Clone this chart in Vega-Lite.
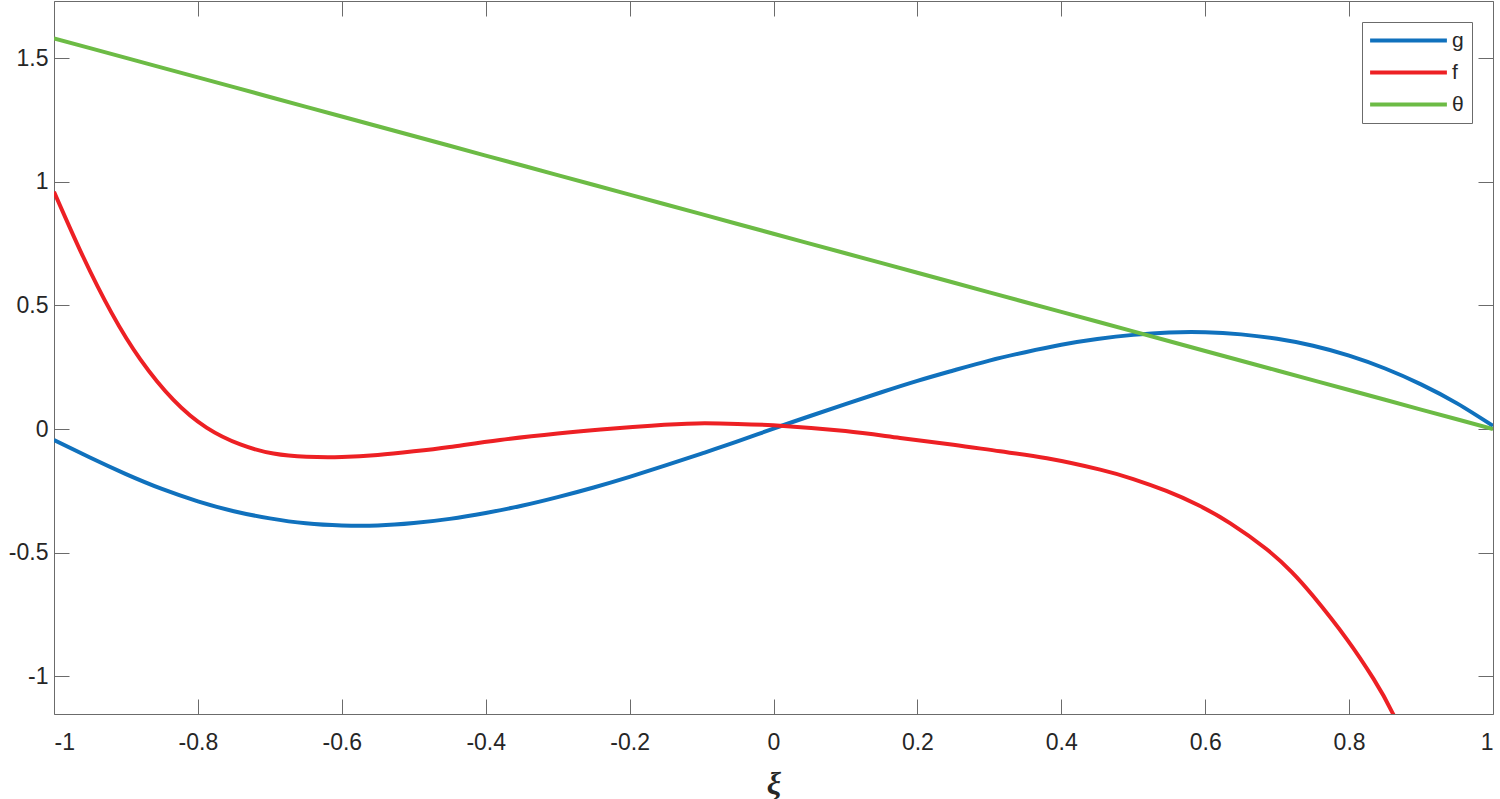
{
  "$schema": "https://vega.github.io/schema/vega-lite/v6.json",
  "autosize": {"type": "none"},
  "width": 1439,
  "height": 713,
  "padding": {"left": 54, "top": 1, "right": 7, "bottom": 85},
  "background": "white",
  "config": {
    "view": {"stroke": "#6b6b6b", "strokeWidth": 1},
    "axis": {
      "domain": false,
      "grid": false,
      "tickColor": "#6b6b6b",
      "tickWidth": 1,
      "tickSize": -15,
      "labelFont": "Liberation Sans",
      "labelFontSize": 23,
      "labelColor": "#262626"
    }
  },
  "datasets": {
    "curves": [
      {"xi": -1.0, "value": -0.044, "series": "g"},
      {"xi": -0.95, "value": -0.115, "series": "g"},
      {"xi": -0.9, "value": -0.182, "series": "g"},
      {"xi": -0.85, "value": -0.242, "series": "g"},
      {"xi": -0.8, "value": -0.292, "series": "g"},
      {"xi": -0.75, "value": -0.332, "series": "g"},
      {"xi": -0.7, "value": -0.361, "series": "g"},
      {"xi": -0.65, "value": -0.381, "series": "g"},
      {"xi": -0.6, "value": -0.390, "series": "g"},
      {"xi": -0.55, "value": -0.390, "series": "g"},
      {"xi": -0.5, "value": -0.380, "series": "g"},
      {"xi": -0.45, "value": -0.363, "series": "g"},
      {"xi": -0.4, "value": -0.339, "series": "g"},
      {"xi": -0.35, "value": -0.310, "series": "g"},
      {"xi": -0.3, "value": -0.275, "series": "g"},
      {"xi": -0.25, "value": -0.236, "series": "g"},
      {"xi": -0.2, "value": -0.193, "series": "g"},
      {"xi": -0.15, "value": -0.147, "series": "g"},
      {"xi": -0.1, "value": -0.099, "series": "g"},
      {"xi": -0.05, "value": -0.050, "series": "g"},
      {"xi": 0.0, "value": 0.002, "series": "g"},
      {"xi": 0.05, "value": 0.052, "series": "g"},
      {"xi": 0.1, "value": 0.101, "series": "g"},
      {"xi": 0.15, "value": 0.149, "series": "g"},
      {"xi": 0.2, "value": 0.195, "series": "g"},
      {"xi": 0.25, "value": 0.237, "series": "g"},
      {"xi": 0.3, "value": 0.277, "series": "g"},
      {"xi": 0.35, "value": 0.311, "series": "g"},
      {"xi": 0.4, "value": 0.341, "series": "g"},
      {"xi": 0.45, "value": 0.364, "series": "g"},
      {"xi": 0.5, "value": 0.381, "series": "g"},
      {"xi": 0.55, "value": 0.391, "series": "g"},
      {"xi": 0.6, "value": 0.392, "series": "g"},
      {"xi": 0.65, "value": 0.383, "series": "g"},
      {"xi": 0.7, "value": 0.365, "series": "g"},
      {"xi": 0.75, "value": 0.337, "series": "g"},
      {"xi": 0.8, "value": 0.297, "series": "g"},
      {"xi": 0.85, "value": 0.245, "series": "g"},
      {"xi": 0.9, "value": 0.181, "series": "g"},
      {"xi": 0.95, "value": 0.104, "series": "g"},
      {"xi": 1.0, "value": 0.013, "series": "g"},
      {"xi": -1.0, "value": 0.960, "series": "f"},
      {"xi": -0.96, "value": 0.700, "series": "f"},
      {"xi": -0.92, "value": 0.470, "series": "f"},
      {"xi": -0.88, "value": 0.282, "series": "f"},
      {"xi": -0.834, "value": 0.118, "series": "f"},
      {"xi": -0.788, "value": 0.006, "series": "f"},
      {"xi": -0.741, "value": -0.062, "series": "f"},
      {"xi": -0.695, "value": -0.099, "series": "f"},
      {"xi": -0.649, "value": -0.112, "series": "f"},
      {"xi": -0.6, "value": -0.113, "series": "f"},
      {"xi": -0.55, "value": -0.105, "series": "f"},
      {"xi": -0.5, "value": -0.090, "series": "f"},
      {"xi": -0.45, "value": -0.072, "series": "f"},
      {"xi": -0.38, "value": -0.044, "series": "f"},
      {"xi": -0.3, "value": -0.018, "series": "f"},
      {"xi": -0.24, "value": -0.002, "series": "f"},
      {"xi": -0.17, "value": 0.014, "series": "f"},
      {"xi": -0.107, "value": 0.023, "series": "f"},
      {"xi": -0.05, "value": 0.021, "series": "f"},
      {"xi": 0.014, "value": 0.013, "series": "f"},
      {"xi": 0.1, "value": -0.008, "series": "f"},
      {"xi": 0.176, "value": -0.036, "series": "f"},
      {"xi": 0.25, "value": -0.063, "series": "f"},
      {"xi": 0.315, "value": -0.090, "series": "f"},
      {"xi": 0.38, "value": -0.118, "series": "f"},
      {"xi": 0.454, "value": -0.164, "series": "f"},
      {"xi": 0.5, "value": -0.202, "series": "f"},
      {"xi": 0.546, "value": -0.250, "series": "f"},
      {"xi": 0.59, "value": -0.307, "series": "f"},
      {"xi": 0.635, "value": -0.381, "series": "f"},
      {"xi": 0.685, "value": -0.485, "series": "f"},
      {"xi": 0.72, "value": -0.577, "series": "f"},
      {"xi": 0.75, "value": -0.675, "series": "f"},
      {"xi": 0.797, "value": -0.850, "series": "f"},
      {"xi": 0.834, "value": -1.010, "series": "f"},
      {"xi": 0.861, "value": -1.151, "series": "f"},
      {"xi": 0.9, "value": -1.399, "series": "f"},
      {"xi": -1.0, "value": 1.58, "series": "θ"},
      {"xi": -0.9, "value": 1.501, "series": "θ"},
      {"xi": -0.8, "value": 1.422, "series": "θ"},
      {"xi": -0.7, "value": 1.343, "series": "θ"},
      {"xi": -0.6, "value": 1.264, "series": "θ"},
      {"xi": -0.5, "value": 1.185, "series": "θ"},
      {"xi": -0.4, "value": 1.106, "series": "θ"},
      {"xi": -0.3, "value": 1.027, "series": "θ"},
      {"xi": -0.2, "value": 0.948, "series": "θ"},
      {"xi": -0.1, "value": 0.869, "series": "θ"},
      {"xi": 0.0, "value": 0.79, "series": "θ"},
      {"xi": 0.1, "value": 0.711, "series": "θ"},
      {"xi": 0.2, "value": 0.632, "series": "θ"},
      {"xi": 0.3, "value": 0.553, "series": "θ"},
      {"xi": 0.4, "value": 0.474, "series": "θ"},
      {"xi": 0.5, "value": 0.395, "series": "θ"},
      {"xi": 0.6, "value": 0.316, "series": "θ"},
      {"xi": 0.7, "value": 0.237, "series": "θ"},
      {"xi": 0.8, "value": 0.158, "series": "θ"},
      {"xi": 0.9, "value": 0.079, "series": "θ"},
      {"xi": 1.0, "value": 0.0, "series": "θ"}
    ]
  },
  "data": {"name": "curves"},
  "layer": [
    {
      "mark": {"type": "line", "strokeWidth": 4, "clip": true, "interpolate": "natural"},
      "encoding": {
        "x": {
          "field": "xi", "type": "quantitative",
          "scale": {"domain": [-1, 1], "nice": false, "zero": false},
          "axis": {
            "orient": "bottom",
            "values": [-1, -0.8, -0.6, -0.4, -0.2, 0, 0.2, 0.4, 0.6, 0.8, 1],
            "labelExpr": "'' + datum.value",
            "labelPadding": 32,
            "title": "ξ",
            "titleFont": "Liberation Serif",
            "titleFontStyle": "italic",
            "titleFontWeight": "bold",
            "titleFontSize": 32,
            "titleColor": "#262626",
            "titlePadding": 14
          }
        },
        "y": {
          "field": "value", "type": "quantitative",
          "scale": {"domain": [-1.152, 1.731], "nice": false, "zero": false},
          "axis": {
            "orient": "left",
            "values": [-1, -0.5, 0, 0.5, 1, 1.5],
            "labelExpr": "'' + datum.value",
            "labelPadding": 21,
            "title": null
          }
        },
        "color": {
          "field": "series", "type": "nominal",
          "scale": {"domain": ["g", "f", "θ"], "range": ["#1071BD", "#ED2024", "#6CBB45"]},
          "legend": {
            "title": null,
            "orient": "none",
            "legendX": 1308,
            "legendY": 21,
            "padding": 8,
            "strokeColor": "#6b6b6b",
            "fillColor": "white",
            "rowPadding": 10,
            "labelFont": "Liberation Sans",
            "labelFontSize": 21,
            "labelColor": "#262626",
            "symbolType": "M-1.3,0H8.3",
            "symbolSize": 256,
            "symbolStrokeWidth": 4,
            "labelOffset": 61
          }
        }
      }
    },
    {
      "mark": {"type": "line", "opacity": 0, "clip": true},
      "encoding": {
        "x": {
          "field": "xi", "type": "quantitative",
          "axis": {
            "orient": "top",
            "values": [-1, -0.8, -0.6, -0.4, -0.2, 0, 0.2, 0.4, 0.6, 0.8, 1],
            "labels": false,
            "title": null
          }
        },
        "y": {
          "field": "value", "type": "quantitative",
          "axis": {
            "orient": "right",
            "values": [-1, -0.5, 0, 0.5, 1, 1.5],
            "labels": false,
            "title": null
          }
        },
        "detail": {"field": "series"}
      }
    }
  ],
  "resolve": {"axis": {"x": "independent", "y": "independent"}}
}
